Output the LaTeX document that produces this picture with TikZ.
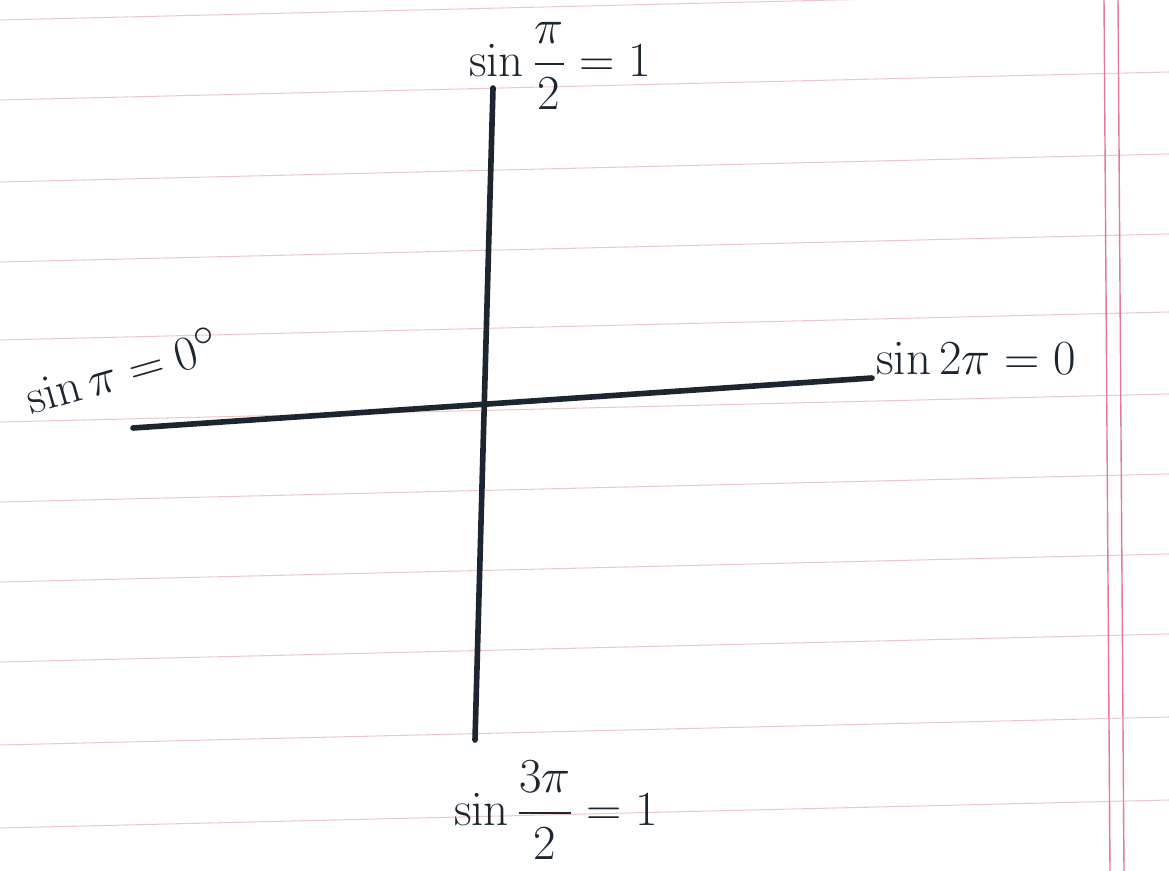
\documentclass[tikz,border=0pt]{standalone}
\usepackage{amsmath}
\usetikzlibrary{positioning}
\definecolor{inkblue}{RGB}{28, 38, 48}
\definecolor{rulepink}{RGB}{236, 200, 205}
\definecolor{marginred}{RGB}{230, 120, 160}

\begin{document}
\begin{tikzpicture}[x=0.02cm, y=-0.02cm,
  axis/.style={line width=3.2pt, color=inkblue, line cap=round},
  rule/.style={line width=0.6pt, color=rulepink},
  margin/.style={line width=0.8pt, color=marginred},
  lbl/.style={font=\Huge, scale=1.12, transform shape, color=inkblue, inner sep=1pt}
]
  \useasboundingbox (0,0) rectangle (1169,871);

  % Paper — ruled lines and margin
  \foreach \y in {20, 100, 182, 262, 340, 422, 502, 582, 662, 745, 828}
    \draw[rule] (0,\y) -- (1169,\y-28);
  \draw[margin] (1104,0) -- (1110,871);
  \draw[margin] (1118,0) -- (1124,871);

  % Axis ends
  \coordinate (top)    at (493, 88);
  \coordinate (bottom) at (475, 740);
  \coordinate (left)   at (133, 428);
  \coordinate (right)  at (872, 378);

  % Labels
  \node[lbl] (lbltop)    at (560, 66)  {$\sin\dfrac{\pi}{2}=1$};
  \node[lbl, rotate=16] (lblleft) at (122, 370) {$\sin\pi=0^\circ$};
  \node[lbl, anchor=west] (lblright) at (874, 358) {$\sin 2\pi=0$};
  \node[lbl] (lblbottom) at (556, 810) {$\sin\dfrac{3\pi}{2}=1$};

  % Axes
  \draw[axis] (top)  -- (bottom);
  \draw[axis] (left) -- (right);
\end{tikzpicture}
\end{document}
